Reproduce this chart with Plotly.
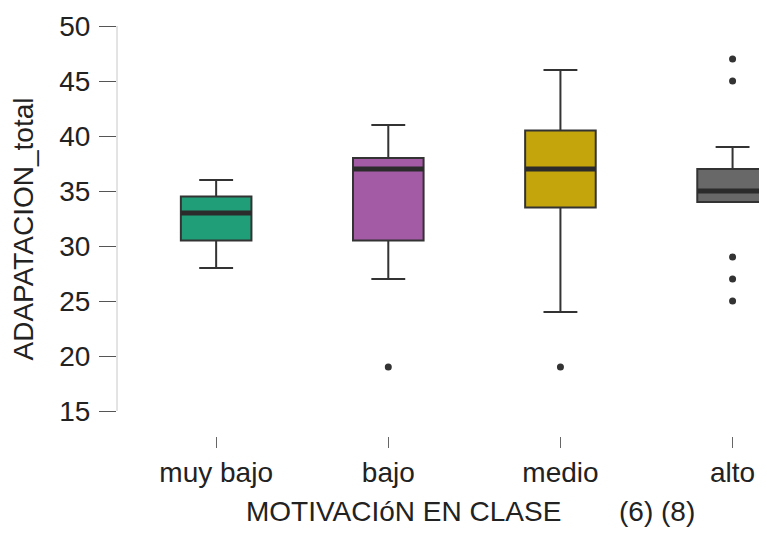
import plotly.graph_objects as go

categories = ["muy bajo", "bajo", "medio", "alto"]
q1 = [30.5, 30.5, 33.5, 34]
medians = [33, 37, 37, 35]
q3 = [34.5, 38, 40.5, 37]
lower_fence = [28, 27, 24, 34]
upper_fence = [36, 41, 46, 39]
outliers = [[], [19], [19], [47, 45, 29, 27, 25]]
colors = ["#1f9e78", "#a35ba6", "#c4a50c", "#686868"]
y_ticks = [15, 20, 25, 30, 35, 40, 45, 50]

box_w = 0.41
font = "Liberation Sans, Arial, sans-serif"

fig = go.Figure()

for i, cat in enumerate(categories):
    fig.add_trace(go.Box(
        x=[i], q1=[q1[i]], median=[medians[i]], q3=[q3[i]],
        lowerfence=[lower_fence[i]], upperfence=[upper_fence[i]],
        width=box_w, whiskerwidth=0.48, boxpoints=False,
        fillcolor=colors[i], line=dict(color="#333333", width=2),
        name=cat, showlegend=False, hoverinfo="skip"))
    # thicker median line
    fig.add_trace(go.Scatter(
        x=[i - box_w / 2, i + box_w / 2], y=[medians[i], medians[i]],
        mode="lines", line=dict(color="#2b2b2b", width=5),
        showlegend=False, hoverinfo="skip"))
    if outliers[i]:
        fig.add_trace(go.Scatter(
            x=[i] * len(outliers[i]), y=outliers[i], mode="markers",
            marker=dict(color="#333333", size=7),
            showlegend=False, hoverinfo="skip"))

# the page body has an 8px margin, so the figure is sized 8px smaller
fig.update_layout(
    width=759, height=527,
    margin=dict(l=109, r=0, t=18, b=99),
    plot_bgcolor="white", paper_bgcolor="white",
    font=dict(family=font, size=28, color="#222222"),
    xaxis=dict(
        range=[-0.576, 3.2], tickmode="array",
        tickvals=list(range(len(categories))), ticktext=categories,
        showline=False, showgrid=False, zeroline=False,
        ticks="outside", ticklen=11, tickcolor="#666666", tickwidth=1,
        tickfont=dict(size=28)),
    yaxis=dict(
        range=[12.73, 50], tickmode="array", tickvals=y_ticks,
        showline=False, showgrid=False, zeroline=False,
        ticks="outside", ticklen=17, tickcolor="#555555", tickwidth=1,
        ticklabelstandoff=3, tickfont=dict(size=28)),
    shapes=[dict(type="line", xref="paper", yref="y", x0=0, x1=0, y0=15, y1=50,
                 line=dict(color="#c8c8c8", width=1))],
    annotations=[
        dict(text="ADAPATACION_total", xref="paper", yref="paper", x=-0.1446, y=0.5037,
             textangle=-90, showarrow=False, xanchor="center", yanchor="middle",
             font=dict(size=28)),
        dict(text="MOTIVACIóN EN CLASE", xref="paper", yref="paper", x=0.4415, y=-0.185,
             showarrow=False, xanchor="center", yanchor="middle", font=dict(size=28)),
        dict(text="(6) (8)", xref="paper", yref="paper", x=0.830, y=-0.185,
             showarrow=False, xanchor="center", yanchor="middle", font=dict(size=28)),
    ],
)

fig.write_html("out.html")
